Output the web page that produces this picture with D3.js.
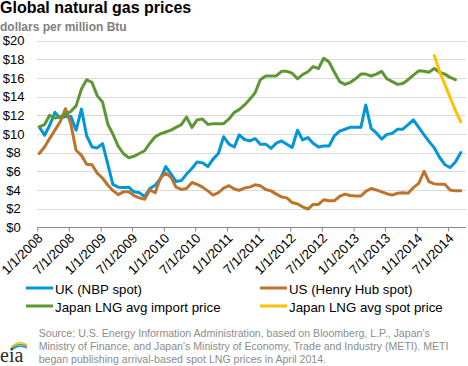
<!DOCTYPE html>
<html><head><meta charset="utf-8">
<script src="https://cdn.jsdelivr.net/npm/d3@7"></script>
<style>
body{margin:0;background:#fff}
svg{display:block;font-family:Arial,"Liberation Sans",sans-serif}
</style>
</head><body>
<svg id="chart" width="468" height="366"></svg>
<script>
// ---- data (monthly, $ per million Btu) ----
const firstMonth = "2008-01";
const ukNBP = [10.75,9.85,10.9,12.3,11.7,11.85,11.9,10.4,12.65,9.8,8.6,8.5,8.95,6.7,4.6,4.3,4.25,4.3,3.8,3.7,3.3,4.15,4.5,5.2,
  6.5,5.7,4.9,5.0,5.7,6.3,7.0,6.9,6.5,7.3,7.9,9.7,8.9,8.6,9.9,9.4,9.25,9.5,8.9,8.9,8.45,9.0,9.25,8.9,
  8.55,10.4,9.35,9.6,9.0,8.6,8.7,8.7,9.8,10.3,10.5,10.7,10.7,10.7,13.1,10.6,10.1,9.45,9.95,10.05,10.5,10.5,11.0,11.5,
  10.7,9.9,9.2,8.5,7.5,6.7,6.4,7.0,8.0];
const usHenryHub = [7.9,8.6,9.5,10.4,11.3,12.7,11.1,8.25,7.7,6.75,6.7,5.8,5.25,4.5,3.95,3.5,3.8,3.8,3.4,3.15,3.0,4.0,3.7,5.3,
  5.8,5.35,4.3,4.05,4.15,4.8,4.6,4.3,3.9,3.45,3.7,4.2,4.45,4.1,3.95,4.2,4.3,4.55,4.45,4.05,3.9,3.55,3.25,3.15,
  2.65,2.5,2.2,1.95,2.45,2.45,2.95,2.85,2.85,3.3,3.55,3.4,3.35,3.35,3.85,4.15,4.0,3.8,3.6,3.45,3.65,3.7,3.65,4.25,
  4.7,6.0,4.9,4.65,4.6,4.6,4.0,3.9,3.9];
const japanLNGImport = [10.75,11.0,12.0,11.7,11.8,12.1,12.4,13.0,14.8,15.8,15.5,14.1,13.4,11.0,10.0,8.7,7.9,7.45,7.6,7.9,8.2,9.0,9.7,10.0,
  10.2,10.4,10.7,11.0,11.8,10.7,11.5,11.6,11.0,11.1,11.1,11.1,11.6,12.3,12.6,13.1,13.7,14.4,15.8,16.2,16.2,16.2,16.7,16.7,
  16.5,15.9,16.35,16.65,17.2,17.0,18.1,17.7,16.6,15.6,15.3,15.5,15.9,16.4,16.4,16.2,16.4,16.7,15.9,15.6,15.3,15.4,15.8,16.3,
  16.75,16.7,16.6,17.0,16.6,16.4,16.05,15.8];
const spotFirstMonth = "2014-04";
const japanLNGSpot = [18.4,16.7,15.3,13.9,12.5,11.3];
const yTickValues = [0,2,4,6,8,10,12,14,16,18,20];
const xTickLabels = ["1/1/2008","7/1/2008","1/1/2009","7/1/2009","1/1/2010","7/1/2010","1/1/2011",
  "7/1/2011","1/1/2012","7/1/2012","1/1/2013","7/1/2013","1/1/2014","7/1/2014"];
const seriesNames = ["UK (NBP spot)","US (Henry Hub spot)","Japan LNG avg import price","Japan LNG avg spot price"];
const seriesColors = ["#0096d7","#bd732a","#5e9732","#ffc000"];
const sourceLines = [
  "Source: U.S. Energy Information Administration, based on Bloomberg, L.P., Japan's",
  "Ministry of Finance, and Japan's Ministry of Economy, Trade and Industry (METI). METI",
  "began publishing arrival-based spot LNG prices in April 2014."
];

// ---- build ----
const svg = d3.select("#chart");
const parseMonth = d3.timeParse("%Y-%m");
const parseTick = d3.timeParse("%m/%d/%Y");
function toPoints(startStr, vals){
  const s = parseMonth(startStr);
  return vals.map((v,i)=>({date: d3.timeDay.offset(d3.timeMonth.offset(s,i),11), v}));
}
const series = [
  toPoints(firstMonth, ukNBP),
  toPoints(firstMonth, usHenryHub),
  toPoints(firstMonth, japanLNGImport),
  toPoints(spotFirstMonth, japanLNGSpot)
];

const x = d3.scaleTime().domain([new Date(2008,0,1), new Date(2014,9,12)]).range([37.3, 466]);
const y = d3.scaleLinear().domain([0,20]).range([227.3, 40.5]);

// title
svg.append("text").attr("x",0).attr("y",12.5).attr("font-size",16).attr("font-weight","bold")
  .attr("fill","#000").text("Global natural gas prices");
svg.append("text").attr("x",0).attr("y",31).attr("font-size",12).attr("font-weight","bold")
  .attr("fill","#808080").text("dollars per million Btu");

// gridlines
svg.append("g").selectAll("line").data(yTickValues.filter(d=>d>0)).join("line")
  .attr("x1",x.range()[0]).attr("x2",x.range()[1])
  .attr("y1",d=>Math.round(y(d))+0.5).attr("y2",d=>Math.round(y(d))+0.5)
  .attr("stroke","#d9d9d9").attr("stroke-width",1);

// y labels
svg.append("g").selectAll("text").data(yTickValues).join("text")
  .attr("x",13.6).attr("y",d=>y(d)).attr("dy","0.36em").attr("text-anchor","middle")
  .attr("font-size",13).attr("fill","#000").text(d=>"$"+d);

// x axis
const xTickDates = xTickLabels.map(parseTick);
const xAxis = d3.axisBottom(x).tickValues(xTickDates).tickSize(4).tickFormat(()=>"");
const gx = svg.append("g").attr("transform",`translate(0,${Math.round(y(0))+0.5})`).call(xAxis);
gx.select(".domain").attr("stroke","#868686").attr("d",`M${x.range()[0]},0H${x.range()[1]}`);
gx.selectAll(".tick line").attr("stroke","#868686");
svg.append("g").selectAll("text").data(xTickDates).join("text")
  .attr("transform",(d,i)=>`translate(${x(d)+6.3},239) rotate(-45)`)
  .attr("text-anchor","end").attr("font-size",13.3).attr("fill","#000")
  .text((d,i)=>xTickLabels[i]);

// lines
const line = d3.line().x(d=>x(d.date)).y(d=>y(d.v));
svg.append("g").selectAll("path").data(series).join("path")
  .attr("d",line).attr("fill","none")
  .attr("stroke",(d,i)=>seriesColors[i]).attr("stroke-width",3)
  .attr("stroke-linejoin","round").attr("stroke-linecap","round");

// legend
const legPos = [[26,288],[260,288],[26,306],[260,306]];
const leg = svg.append("g").selectAll("g").data(seriesNames).join("g")
  .attr("transform",(d,i)=>`translate(${legPos[i][0]},${legPos[i][1]})`);
leg.append("line").attr("x1",0).attr("x2",27).attr("y1",0).attr("y2",0)
  .attr("stroke",(d,i)=>seriesColors[i]).attr("stroke-width",3);
leg.append("text").attr("x",29).attr("y",5.5).attr("font-size",13.3).attr("fill","#000").text(d=>d);

// source
svg.append("g").selectAll("text").data(sourceLines).join("text")
  .attr("x",38.7).attr("y",(d,i)=>337.3+i*13).attr("font-size",10.6).attr("fill","#8c8c8c").text(d=>d);

// eia logo
const logo = svg.append("g");
logo.append("path").attr("d","M11,347.5 Q19,339.5 27,345").attr("fill","none").attr("stroke","#f2c318").attr("stroke-width",1.4);
logo.append("path").attr("d","M11,349 Q19,341.5 27,346.5").attr("fill","none").attr("stroke","#6aa83c").attr("stroke-width",1.4);
logo.append("path").attr("d","M11,350.5 Q19,343.5 27,348").attr("fill","none").attr("stroke","#1e8fc8").attr("stroke-width",1.4);
logo.append("text").attr("x",0).attr("y",361.5).attr("font-family","'Liberation Serif','DejaVu Serif',serif")
  .attr("font-size",20).attr("fill","#2b2b2b").text("eia");
</script>
</body></html>
